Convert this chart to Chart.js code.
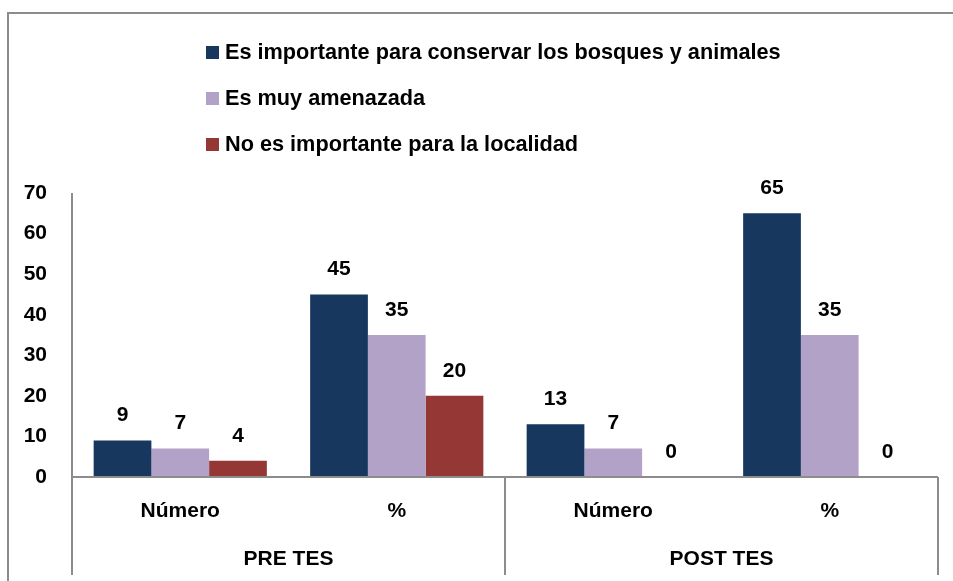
<!DOCTYPE html>
<html>
<head>
<meta charset="utf-8">
<script src="https://cdn.jsdelivr.net/npm/chart.js@4.4.1/dist/chart.umd.min.js"></script>
<style>
  html, body { margin: 0; padding: 0; background: #fff; }
  #wrap { position: relative; width: 953px; height: 581px; overflow: hidden; }
  #frame { position: absolute; left: 7px; top: 12px; width: 960px; height: 600px;
           border-top: 2px solid #8c8c8c; border-left: 2px solid #8c8c8c; box-sizing: border-box; }
  canvas { position: absolute; left: 0; top: 0; }
  #legend { position: absolute; left: 206px; top: 34px; font-family: 'Liberation Sans Narrow', 'Arial Narrow', 'Liberation Sans', Arial, sans-serif;
            font-weight: bold; font-size: 21.7px; color: #000; }
  .item { height: 46px; line-height: 36px; white-space: nowrap; }
  .sw { display: inline-block; width: 13px; height: 13px; margin-right: 6px; vertical-align: 0px; }
</style>
</head>
<body>
<div id="wrap">
  <div id="frame"></div>
  <canvas id="c" width="953" height="581"></canvas>
  <div id="legend"></div>
</div>
<script>
const categories = ['Número', '%', 'Número', '%'];
const groups = ['PRE TES', 'POST TES'];
const seriesNames = [
  'Es importante para conservar los bosques y animales',
  'Es muy amenazada',
  'No es importante para la localidad'
];
const importante = [9, 45, 13, 65];
const amenazada = [7, 35, 7, 35];
const noImportante = [4, 20, 0, 0];
const yTicks = [0, 10, 20, 30, 40, 50, 60, 70];
const colors = ['#17375E', '#B3A2C7', '#953735'];

const FONT = "'Liberation Sans Narrow', 'Arial Narrow', 'Liberation Sans', Arial, sans-serif";
const LINE = '#8c8c8c';

const seriesValues = [importante, amenazada, noImportante];

// HTML legend built from the series
const legendEl = document.getElementById('legend');
seriesNames.forEach((n, i) => {
  const d = document.createElement('div');
  d.className = 'item';
  const s = document.createElement('span');
  s.className = 'sw';
  s.style.background = colors[i];
  d.appendChild(s);
  d.appendChild(document.createTextNode(n));
  legendEl.appendChild(d);
});

const decor = {
  id: 'decor',
  afterDraw(chart) {
    const ctx = chart.ctx;
    const ca = chart.chartArea;
    const x = chart.scales.x;
    const bottom = 575;
    ctx.save();
    ctx.strokeStyle = LINE;
    ctx.lineWidth = 2;
    ctx.beginPath();
    ctx.moveTo(ca.left, ca.top); ctx.lineTo(ca.left, bottom);
    ctx.moveTo(ca.left, ca.bottom); ctx.lineTo(ca.right, ca.bottom);
    const mid = (x.getPixelForValue(1) + x.getPixelForValue(2)) / 2;
    ctx.moveTo(mid, ca.bottom); ctx.lineTo(mid, bottom);
    ctx.moveTo(ca.right, ca.bottom); ctx.lineTo(ca.right, bottom);
    ctx.stroke();
    ctx.restore();
  },
  afterDatasetsDraw(chart) {
    const ctx = chart.ctx;
    ctx.save();
    ctx.font = 'bold 21px ' + FONT;
    ctx.fillStyle = '#000';
    ctx.textAlign = 'center';
    ctx.textBaseline = 'middle';
    chart.data.datasets.forEach((ds, i) => {
      const meta = chart.getDatasetMeta(i);
      meta.data.forEach((bar, j) => {
        ctx.fillText(String(ds.data[j]), bar.x, bar.y - 25);
      });
    });
    ctx.restore();
  }
};

new Chart(document.getElementById('c'), {
  type: 'bar',
  data: {
    labels: categories,
    datasets: seriesNames.map((n, i) => ({
      label: n,
      data: seriesValues[i],
      backgroundColor: colors[i],
      borderWidth: 0,
      barPercentage: 1.0,
      categoryPercentage: 0.8,
      xAxisID: 'x',
      yAxisID: 'y'
    }))
  },
  options: {
    responsive: false,
    animation: false,
    devicePixelRatio: 1,
    layout: { padding: { top: 193, right: 15, bottom: 0, left: 0 } },
    plugins: { legend: { display: false }, tooltip: { enabled: false } },
    scales: {
      x: {
        type: 'category',
        position: 'bottom',
        weight: 0,
        grid: { display: false, drawTicks: false },
        border: { display: false },
        ticks: { color: '#000', font: { family: FONT, size: 21, weight: 'bold' }, padding: 22, maxRotation: 0 },
        afterFit(s) { s.height = 58; }
      },
      x2: {
        type: 'category',
        position: 'bottom',
        weight: 1,
        labels: groups,
        offset: true,
        grid: { display: false, drawTicks: false },
        border: { display: false },
        ticks: { color: '#000', font: { family: FONT, size: 21, weight: 'bold' }, padding: 12, maxRotation: 0 },
        afterFit(s) { s.height = 46; }
      },
      y: {
        min: 0, max: 70,
        afterBuildTicks(s) { s.ticks = yTicks.map(v => ({ value: v })); },
        grid: { display: false, drawTicks: false },
        border: { display: false },
        ticks: { color: '#000', font: { family: FONT, size: 21, weight: 'bold' }, padding: 25 },
        afterFit(s) { s.width = 72; }
      }
    }
  },
  plugins: [decor]
});
</script>
</body>
</html>
